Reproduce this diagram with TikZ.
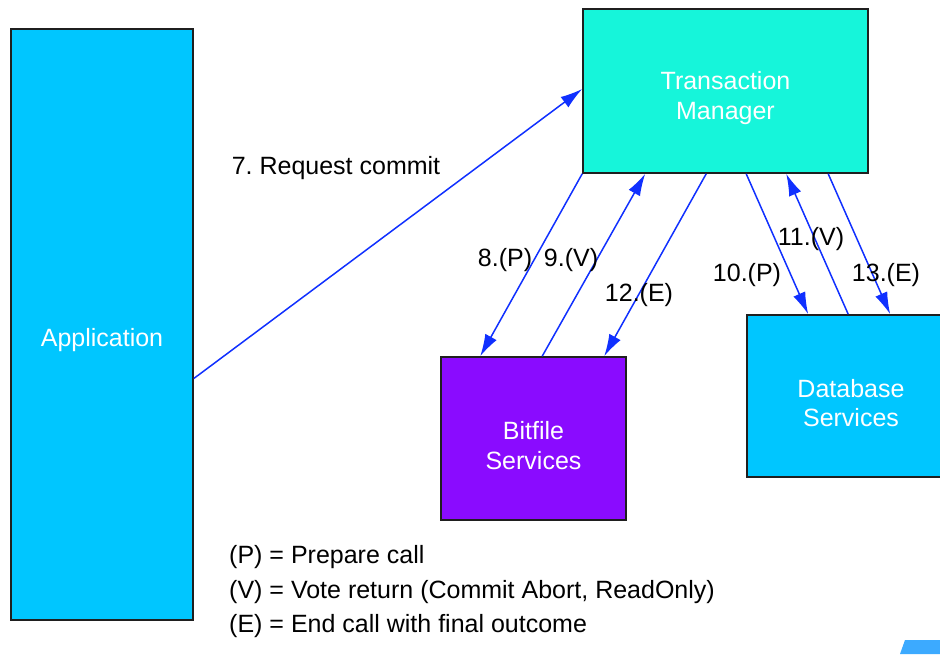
\documentclass[tikz,border=0pt]{standalone}
\usepackage{fontspec}
\setmainfont{Liberation Sans}
\usepackage{tikz}
\usetikzlibrary{arrows.meta}
\frenchspacing
\definecolor{hexcolor0x00c6ff}{rgb}{0.000,0.776,1.000}
\definecolor{hexcolor0x16f5da}{rgb}{0.086,0.961,0.855}
\definecolor{hexcolor0x8a0bff}{rgb}{0.541,0.043,1.000}
\definecolor{hexcolor0x1030ff}{rgb}{0.063,0.188,1.000}
\definecolor{hexcolor0x3caaff}{rgb}{0.235,0.667,1.000}
\definecolor{myblack}{rgb}{0.120,0.120,0.120}
\tikzstyle{block}=[rectangle,draw=myblack,line width=1.6pt,inner sep=0pt]
\tikzstyle{setBlue}=[block,fill=hexcolor0x00c6ff]
\tikzstyle{setTeal}=[block,fill=hexcolor0x16f5da]
\tikzstyle{setViolet}=[block,fill=hexcolor0x8a0bff]
\tikzstyle{boxtext}=[text=white,align=center,inner sep=0pt,font=\fontsize{25}{29.5}\selectfont]
\tikzstyle{call}=[-{Latex[length=22pt,width=13pt]},draw=hexcolor0x1030ff,line width=1.5pt]
\tikzstyle{lbl}=[inner sep=0pt,font=\fontsize{25}{29}\selectfont]

\begin{document}
\begin{tikzpicture}[x=1pt,y=-1pt]
	\clip (0,0) rectangle (940,654);
	% boxes
		\node [style=setBlue,minimum width=182pt,minimum height=591pt,label={[boxtext,yshift=-16pt]center:Application}] (app) at (102,324.5) {};
		\node [style=setTeal,minimum width=285pt,minimum height=164pt,label={[boxtext,yshift=-7pt]center:Transaction\\Manager}] (tm) at (725.5,91) {};
		\node [style=setViolet,minimum width=185pt,minimum height=163pt,label={[boxtext,yshift=-7pt]center:Bitfile\\Services}] (bit) at (533.5,438.5) {};
		\node [style=setBlue,minimum width=208pt,minimum height=162pt,label={[boxtext,yshift=-7pt]center:Database\\Services}] (db) at (851,396) {};
	% calls
		\draw [style=call] ([yshift=-54pt]app.east) to ([yshift=2pt]tm.west);
		\draw [style=call] (tm.south west) to ([xshift=40pt]bit.north west);
		\draw [style=call] ([xshift=102pt]bit.north west) to ([xshift=63pt]tm.south west);
		\draw [style=call] ([xshift=124pt]tm.south west) to ([xshift=164pt]bit.north west);
		\draw [style=call] ([xshift=164pt]tm.south west) to ([xshift=62pt]db.north west);
		\draw [style=call] ([xshift=102pt]db.north west) to ([xshift=204pt]tm.south west);
		\draw [style=call] ([xshift=246pt]tm.south west) to ([xshift=144pt]db.north west);
	% labels
		\node [style=lbl] (l7) at (336,168) {7. Request commit};
		\node [style=lbl] (l8) at (505,260) {8.(P)};
		\node [style=lbl] (l9) at (571,260) {9.(V)};
		\node [style=lbl] (l12) at (639,295) {12.(E)};
		\node [style=lbl] (l10) at (747,275) {10.(P)};
		\node [style=lbl] (l11) at (811,239) {11.(V)};
		\node [style=lbl] (l13) at (886,275) {13.(E)};
	% legend
		\node [style=lbl,anchor=west] (legP) at (229,557) {(P) = Prepare call};
		\node [style=lbl,anchor=west] (legV) at (229,592) {(V) = Vote return (Commit Abort, ReadOnly)};
		\node [style=lbl,anchor=west] (legE) at (229,626) {(E) = End call with final outcome};
	% corner
	\fill [hexcolor0x3caaff] (900,654) -- (905,640) -- (940,640) -- (940,654) -- cycle;
\end{tikzpicture}
\end{document}
